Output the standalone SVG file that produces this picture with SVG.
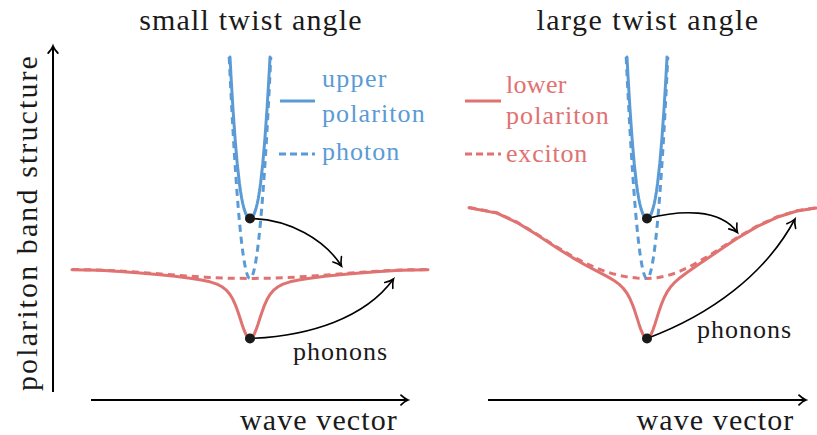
<svg xmlns="http://www.w3.org/2000/svg" width="817" height="435" viewBox="0 0 817 435">
<defs>
<marker id="head" markerUnits="userSpaceOnUse" markerWidth="14" markerHeight="14" viewBox="0 0 14 14" refX="11" refY="7" orient="auto">
<path d="M3,2 Q7,5.6 11,7 Q7,8.4 3,12" fill="none" stroke="#000" stroke-width="1.6" stroke-linecap="round"/>
</marker>
<marker id="axhead" markerUnits="userSpaceOnUse" markerWidth="14" markerHeight="14" viewBox="0 0 14 14" refX="11" refY="7" orient="auto">
<path d="M4,2.2 Q7.5,5.6 11,7 Q7.5,8.4 4,11.8" fill="none" stroke="#000" stroke-width="1.8" stroke-linecap="round"/>
</marker>
</defs>

<g id="titles">
<text font-family="Liberation Serif" font-size="30" fill="#1a1a1a" letter-spacing="1.2" x="251" y="30" text-anchor="middle">small twist angle</text>
<text font-family="Liberation Serif" font-size="30" fill="#1a1a1a" letter-spacing="1.5" x="648" y="30" text-anchor="middle">large twist angle</text>
</g>

<g id="axes">
<g stroke="#000" stroke-width="2" fill="none" marker-end="url(#axhead)">
<line x1="53" y1="392" x2="53" y2="46"/>
<line x1="91" y1="400" x2="408" y2="400"/>
<line x1="488" y1="400" x2="806" y2="400"/>
</g>
<text font-family="Liberation Serif" font-size="30" fill="#1a1a1a" letter-spacing="2.1" transform="rotate(-90)" x="-222.5" y="37" text-anchor="middle">polariton band structure</text>
<text font-family="Liberation Serif" font-size="30" fill="#1a1a1a" letter-spacing="1.1" x="319" y="430" text-anchor="middle">wave vector</text>
<text font-family="Liberation Serif" font-size="30" fill="#1a1a1a" letter-spacing="1.1" x="715.5" y="430" text-anchor="middle">wave vector</text>
</g>

<g id="left-exciton" fill="none" stroke="#e07272" stroke-width="3" stroke-dasharray="7 5" stroke-linejoin="round">
<polyline points="72,269.5 94.25,269.84 116.5,270.82 138.75,272.28 161,274 183.25,275.72 205.5,277.18 227.75,278.16 250,278.5 272.25,278.16 294.5,277.18 316.75,275.72 339,274 361.25,272.28 383.5,270.82 405.75,269.84 428,269.5"/>
</g>
<g id="left-lower-polariton" fill="none" stroke="#e07272" stroke-width="3" stroke-linejoin="round" stroke-linecap="round">
<polyline points="72,269.73 100,270.35 120,271.44 140,272.95 160,274.8 175,276.35 190,278.16 200,279.68 210,281.8 217,284.14 222,286.75 226,289.85 230,294.52 233,299.59 236,306.43 238,311.97 240,318.08 242,324.28 244,329.97 246,334.54 248,337.48 250,338.5 252,337.48 254,334.54 256,329.97 258,324.28 260,318.08 262,311.97 264,306.43 267,299.59 270,294.52 274,289.85 278,286.75 283,284.14 290,281.8 300,279.68 310,278.16 325,276.35 340,274.8 360,272.95 380,271.44 400,270.35 428,269.73"/>
</g>
<g id="left-photon" fill="none" stroke="#5b9bd5" stroke-width="3" stroke-dasharray="7 5">
<path d="M229.2,57 Q250,500 270.8,57"/>
</g>
<g id="left-upper-polariton" fill="none" stroke="#5b9bd5" stroke-width="3" stroke-linejoin="round" stroke-linecap="round">
<polyline points="229.98,57 231.15,78.5 232.95,108.5 235.06,138.5 237.21,163.5 239.44,183.5 240.56,191.5 241.73,198.5 242.74,203.5 243.98,208.5 245.67,213.5 247.23,216.5 248.03,217.5 250,218.5 251.97,217.5 252.77,216.5 254.33,213.5 256.02,208.5 257.26,203.5 258.27,198.5 259.44,191.5 260.56,183.5 262.79,163.5 264.94,138.5 267.05,108.5 268.85,78.5 270.02,57"/>
</g>

<g id="right-exciton" fill="none" stroke="#e07272" stroke-width="3" stroke-dasharray="7 5" stroke-linejoin="round">
<polyline points="469,207.5 497,212.83 517,222.14 537,234.22 557,247.07 572,256.09 587,264 597,268.34 607,271.99 614,274.07 619,275.31 627,276.87 637,278.09 647,278.5 657,277.8 667,275.75 675,273.19 680,271.23 687,268.03 697,262.73 707,256.86 722,247.25 737,237.68 757,226.06 777,216.87 797,210.73 816,207.82"/>
</g>
<g id="right-lower-polariton" fill="none" stroke="#e07272" stroke-width="3" stroke-linejoin="round" stroke-linecap="round">
<polyline points="469,207.72 497,213.15 517,222.55 537,234.81 557,247.95 572,257.35 587,265.95 597,271.17 607,276.41 614,280.49 619,284.15 623,287.99 627,293.27 630,298.73 633,305.89 635,311.61 637,317.85 639,324.15 641,329.9 643,334.51 645,337.48 647,338.5 649,337.47 651,334.48 653,329.84 655,324.03 657,317.65 659,311.3 661,305.42 664,298.01 667,292.22 671,286.45 675,282.09 680,277.69 687,272.47 697,265.56 707,258.84 722,248.52 737,238.55 757,226.64 777,217.29 797,211.04 816,208.05"/>
</g>
<g id="right-photon" fill="none" stroke="#5b9bd5" stroke-width="3" stroke-dasharray="7 5">
<path d="M626.2,57 Q647,500 667.8,57"/>
</g>
<g id="right-upper-polariton" fill="none" stroke="#5b9bd5" stroke-width="3" stroke-linejoin="round" stroke-linecap="round">
<polyline points="626.98,57 628.15,78.5 629.95,108.5 632.06,138.5 634.21,163.5 636.44,183.5 637.56,191.5 638.73,198.5 639.74,203.5 640.98,208.5 642.67,213.5 644.23,216.5 645.03,217.5 647,218.5 648.97,217.5 649.77,216.5 651.33,213.5 653.02,208.5 654.26,203.5 655.27,198.5 656.44,191.5 657.56,183.5 659.79,163.5 661.94,138.5 664.05,108.5 665.85,78.5 667.02,57"/>
</g>

<g id="legend-upper">
<line x1="280" y1="101" x2="315" y2="101" stroke="#5b9bd5" stroke-width="3"/>
<line x1="279" y1="154" x2="315" y2="154" stroke="#5b9bd5" stroke-width="3" stroke-dasharray="7 4"/>
<text font-family="Liberation Serif" font-size="26" fill="#5b9bd5" letter-spacing="1.3" x="322" y="87">upper</text>
<text font-family="Liberation Serif" font-size="26" fill="#5b9bd5" letter-spacing="1.1" x="322" y="121.5">polariton</text>
<text font-family="Liberation Serif" font-size="26" fill="#5b9bd5" letter-spacing="1" x="322" y="160">photon</text>
</g>
<g id="legend-lower">
<line x1="465" y1="101" x2="501" y2="101" stroke="#e07272" stroke-width="3"/>
<line x1="465" y1="154" x2="501" y2="154" stroke="#e07272" stroke-width="3" stroke-dasharray="7 4"/>
<text font-family="Liberation Serif" font-size="26" fill="#e07272" letter-spacing="0.3" x="506" y="92.5">lower</text>
<text font-family="Liberation Serif" font-size="26" fill="#e07272" letter-spacing="1.1" x="506" y="123.5">polariton</text>
<text font-family="Liberation Serif" font-size="26" fill="#e07272" letter-spacing="0.8" x="506" y="162">exciton</text>
</g>

<g id="connectors" stroke="#000" stroke-width="1.6" fill="none" marker-end="url(#head)">
<path d="M250,218.5 C290,219 325,240 341.5,266"/>
<path d="M250,338.5 C310,336 365,318 393.5,279"/>
<path d="M647,218.5 C680,210 720,208 737.5,232.5"/>
<path d="M647,338.5 C710,315 765,275 795,219"/>
</g>

<g id="states" fill="#1a1a1a">
<circle cx="250" cy="218.5" r="5"/>
<circle cx="250" cy="338.5" r="5"/>
<circle cx="647" cy="218.5" r="5"/>
<circle cx="647" cy="338.5" r="5"/>
</g>

<g id="phonon-labels">
<text font-family="Liberation Serif" font-size="26" fill="#1a1a1a" letter-spacing="1" x="293" y="360">phonons</text>
<text font-family="Liberation Serif" font-size="26" fill="#1a1a1a" letter-spacing="1" x="697" y="338">phonons</text>
</g>
</svg>
